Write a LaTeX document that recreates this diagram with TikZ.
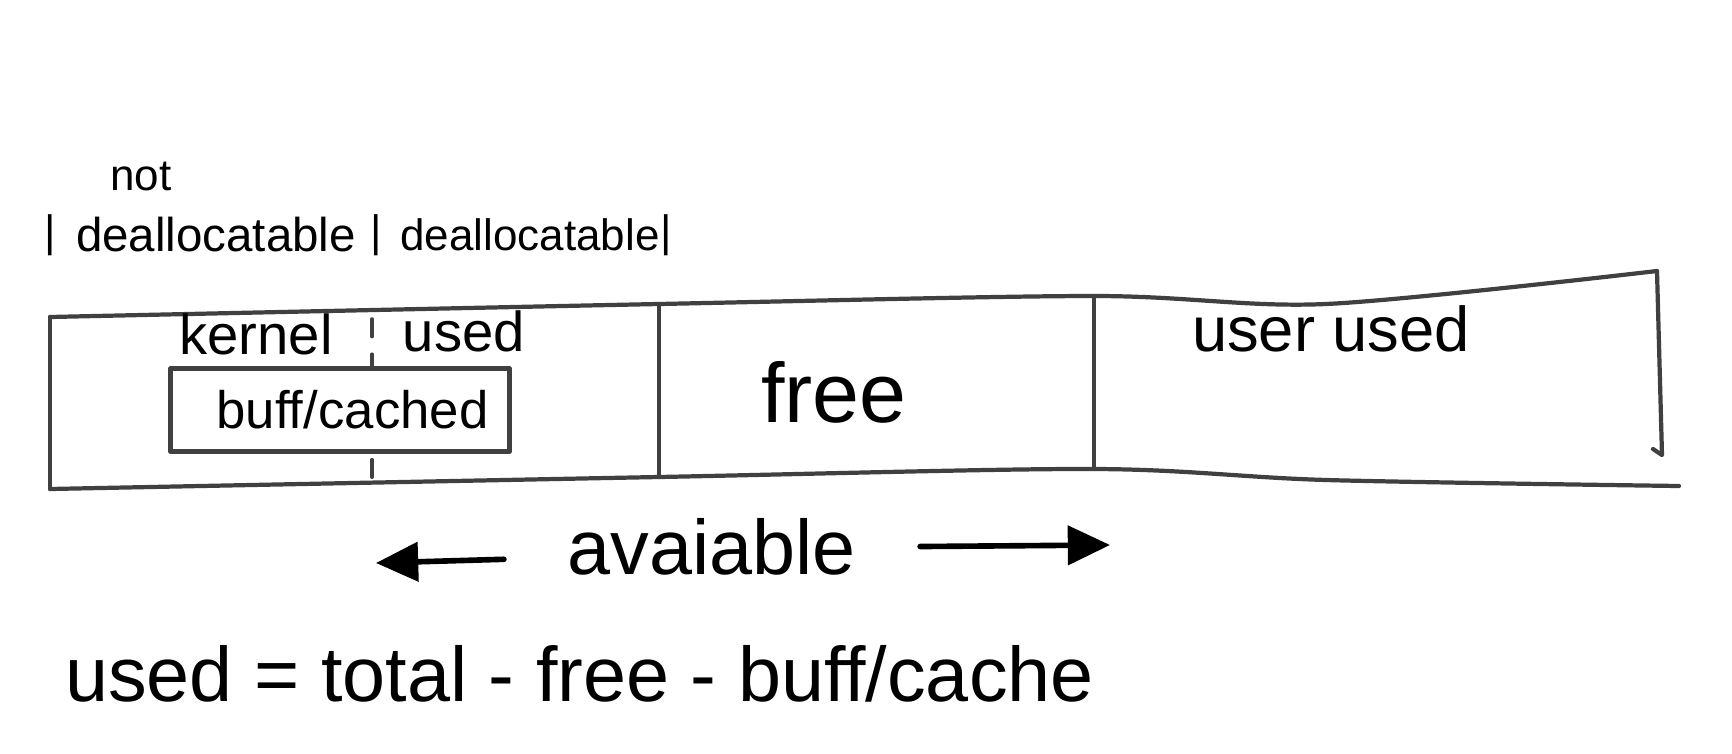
\documentclass[tikz,border=0pt]{standalone}
\usepackage{fontspec}
\setmainfont{Liberation Sans}
\usetikzlibrary{positioning, arrows.meta}

\begin{document}
\begin{tikzpicture}
[
    x=0.01cm, y=-0.01cm,
    % everything is placed in pixels of the sketch, y grows downward
]

%=================================== Start ===================================
\tikzstyle{wall}  = [draw=black!75, line width=1.2pt, line join=round, line cap=round]
\tikzstyle{txt}   = [inner sep=1pt, text=black]
\tikzstyle{small} = [txt, font=\fontsize{12.5}{15}\selectfont]
\tikzstyle{mid}   = [txt, font=\fontsize{16}{19}\selectfont]
\tikzstyle{large} = [txt, font=\fontsize{22}{26}\selectfont]
\tikzstyle{cache} = [wall, fill=white, minimum width=3.39cm, minimum height=0.83cm,
                     inner sep=0pt, font=\fontsize{15}{18}\selectfont]
\tikzstyle{arr}   = [line width=1.6pt, line cap=round, shorten <=17pt,
                     -{Triangle[length=12pt, width=11pt]}]

\useasboundingbox (0,0) rectangle (1732,754);

% corners and dividers of the memory strip
\coordinate (tl) at (50,317);   \coordinate (bl) at (50,489);
\coordinate (t1) at (659,304);  \coordinate (b1) at (659,477);
\coordinate (t2) at (1094,296); \coordinate (b2) at (1094,469);
\coordinate (tr) at (1657,271); \coordinate (br) at (1662,455);
\coordinate (d-top) at (372,319); \coordinate (d-bot) at (372,486);

% dashed split kernel / used (drawn first, the cache box covers it)
\draw[wall, line width=1pt, dash pattern=on 5pt off 5pt] (d-top) -- (d-bot);

% the strip itself
\draw[wall] plot[smooth] coordinates {(tl) (t1) (t2) (1326,304) (tr)};
\draw[wall] plot[smooth] coordinates {(bl) (b1) (b2) (1326,480) (1679,486)};
\draw[wall] (tl) -- (bl);
\draw[wall] (t1) -- (b1);
\draw[wall] (t2) -- (b2);
\draw[wall] (tr) -- (br) -- ++(-9,-6);

% headers above the strip
\node[small] (not) at (141,177) {not};
\node[small] (bar-0) at (50,235) {|};
\node[small] (bar-1) at (376,235) {|};
\node[small] (bar-2) at (666,235) {|};
\node[txt, font=\fontsize{13.5}{16}\selectfont] (dealloc-n) at (216,235) {deallocatable};
\node[small] (dealloc-y) at (530,235) {deallocatable};

% contents of the strip
\node[mid] (kernel) at (256,334) {kernel};
\node[mid] (used) at (464,331) {used};
\node[cache] (buff) at (340,410) {\hspace*{0.25cm}buff/cached};
\node[txt, font=\fontsize{24}{28}\selectfont] (free) at (834,392) {free};
\node[txt, font=\fontsize{18}{21}\selectfont] (user) at (1331,329) {user used};

% available range
\node[large] (avail) at (712,547) {avaiable};
\coordinate (av-l) at (376,563);
\coordinate (av-r) at (1110,545);
\draw[arr] ([yshift=-3pt]avail.west) -- (av-l);
\draw[arr] (avail.east) -- (av-r);

% formula
\node[large, anchor=west] (formula) at (61,674) {used = total - free - buff/cache};
%==================================== END ====================================

\end{tikzpicture}
\end{document}
